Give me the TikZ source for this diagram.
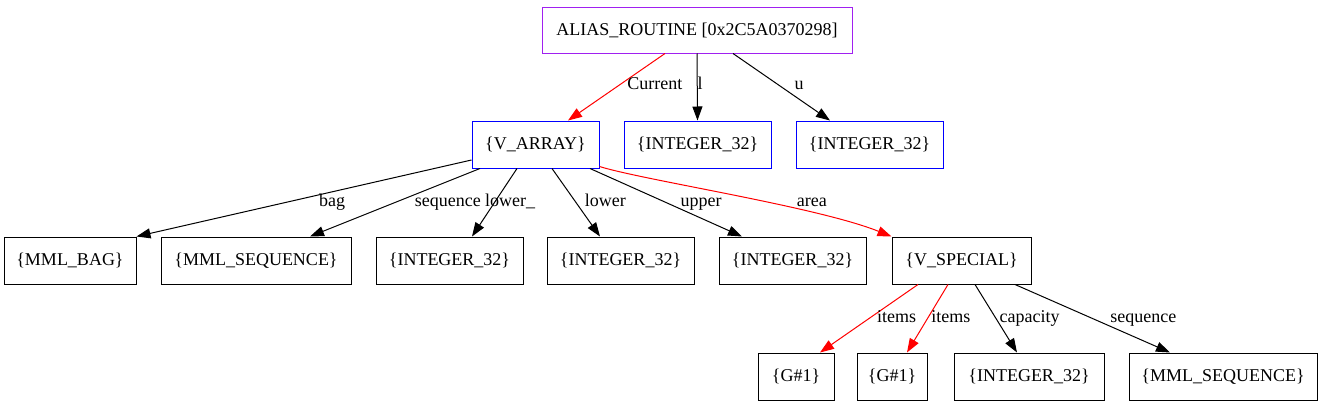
\documentclass[tikz,border=0pt]{standalone}
\usepackage{fontspec}
\setmainfont{Liberation Serif}
\usetikzlibrary{arrows.meta}

\definecolor{gvpurple}{HTML}{A020F0}

\begin{document}
\begin{tikzpicture}[x=1pt, y=-1pt, font=\fontsize{18}{20}\selectfont,
        box/.style={draw, rectangle, minimum height=47pt, inner sep=2pt, line width=1pt},
        lbl/.style={inner sep=0pt, text height=12pt, text depth=4pt},
        edge/.style={-{Triangle[length=14pt, width=10pt]}, line width=1pt}]
        \useasboundingbox (0,0) rectangle (1323,407);

        % top level
        \node[box, draw=gvpurple, minimum width=310pt, minimum height=46pt] (ar) at (697,30) {ALIAS\_ROUTINE [0x2C5A0370298]};
        \node[box, draw=blue, minimum width=127pt] (va) at (535.5,144.5) {\{V\_ARRAY\}};
        \node[box, draw=blue, minimum width=147pt] (il) at (697.5,144.5) {\{INTEGER\_32\}};
        \node[box, draw=blue, minimum width=147pt] (iu) at (869.5,144.5) {\{INTEGER\_32\}};

        % second level
        \node[box, minimum width=132pt] (bag) at (70,260.5) {\{MML\_BAG\}};
        \node[box, minimum width=190pt] (sq) at (256,260.5) {\{MML\_SEQUENCE\}};
        \node[box, minimum width=147pt] (lo1) at (449.5,260.5) {\{INTEGER\_32\}};
        \node[box, minimum width=147pt] (lo2) at (620.5,260.5) {\{INTEGER\_32\}};
        \node[box, minimum width=147pt] (up) at (792.5,260.5) {\{INTEGER\_32\}};
        \node[box, minimum width=139pt] (vs) at (961.5,260.5) {\{V\_SPECIAL\}};

        % third level
        \node[box, minimum width=76pt] (g1) at (796,376.5) {\{G\#1\}};
        \node[box, minimum width=70pt] (g2) at (892,376.5) {\{G\#1\}};
        \node[box, minimum width=150pt] (cap) at (1029,376.5) {\{INTEGER\_32\}};
        \node[box, minimum width=188pt] (sq2) at (1223,376.5) {\{MML\_SEQUENCE\}};

        \draw[edge, red] ([xshift=-32pt]ar.south) -- ([xshift=32.5pt]va.north) node[lbl, pos=0.485, xshift=37pt, text=black] {Current};
        \draw[edge] (ar.south) -- (il.north) node[lbl, pos=0.485, xshift=3pt] {l};
        \draw[edge] ([xshift=36pt]ar.south) -- ([xshift=-39.5pt]iu.north) node[lbl, pos=0.485, xshift=19pt] {u};

        \draw[edge] ([yshift=-15.5pt]va.west) -- (bag.north east) node[lbl, pos=0.558, xshift=47.5pt] {bag};
        \draw[edge] ([xshift=-55.5pt]va.south) -- ([xshift=54pt]sq.north) node[lbl, pos=0.507, xshift=54pt] {sequence};
        \draw[edge] ([xshift=-18.5pt]va.south) -- ([xshift=22.5pt]lo1.north) node[lbl, pos=0.507, xshift=16pt] {lower\_};
        \draw[edge] ([xshift=16.5pt]va.south) -- ([xshift=-20.5pt]lo2.north) node[lbl, pos=0.507, xshift=29pt] {lower};
        \draw[edge] ([xshift=54.5pt]va.south) -- ([xshift=-50.5pt]up.north) node[lbl, pos=0.507, xshift=34pt] {upper};
        \draw[edge, red] ([yshift=2pt]va.south east) .. controls +(45,14) and +(-75,-30) .. (vs.north west) node[lbl, pos=0.7, xshift=8pt, yshift=8pt, text=black] {area};

        \draw[edge, red] ([xshift=-43.5pt]vs.south) -- ([xshift=24pt]g1.north) node[lbl, pos=0.493, xshift=27pt, text=black] {items};
        \draw[edge, red] ([xshift=-13.5pt]vs.south) -- ([xshift=15pt]g2.north) node[lbl, pos=0.493, xshift=23pt, text=black] {items};
        \draw[edge] ([xshift=13.5pt]vs.south) -- ([xshift=-12pt]cap.north) node[lbl, pos=0.493, xshift=34pt] {capacity};
        \draw[edge] ([xshift=53.5pt]vs.south) -- ([xshift=-53pt]sq2.north) node[lbl, pos=0.493, xshift=52pt] {sequence};
\end{tikzpicture}
\end{document}
